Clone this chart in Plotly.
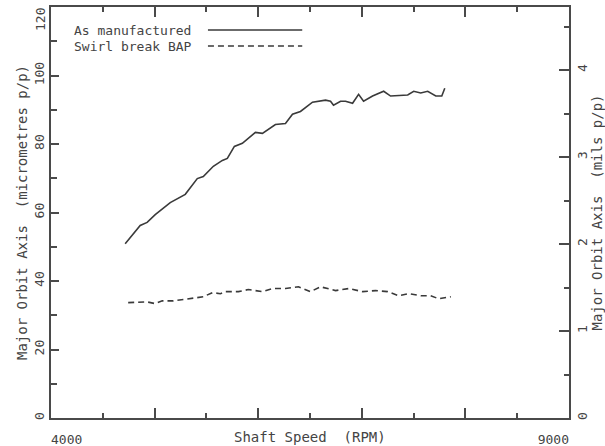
import plotly.graph_objects as go

# ---- data ----
rpm_solid = [4716, 4861, 4928, 5006, 5151, 5296, 5412, 5470, 5567, 5654, 5702, 5770,
             5847, 5973, 6041, 6166, 6263, 6331, 6408, 6524, 6650, 6698, 6727, 6795,
             6843, 6911, 6969, 7017, 7104, 7211, 7278, 7443, 7501, 7569, 7636, 7714,
             7772, 7801]
orbit_solid = [50.9, 56.2, 57.1, 59.4, 62.9, 65.3, 69.9, 70.5, 73.5, 75.2, 75.8, 79.3,
               80.2, 83.4, 83.1, 85.7, 86.0, 88.7, 89.5, 92.2, 92.8, 92.5, 91.3, 92.5,
               92.5, 91.9, 94.5, 92.5, 94.0, 95.4, 94.0, 94.3, 95.4, 94.9, 95.4, 94.0,
               94.0, 96.3]

rpm_dash = [4745, 4841, 4928, 5006, 5074, 5180, 5315, 5412, 5470, 5557, 5635, 5683,
            5809, 5905, 6041, 6137, 6263, 6389, 6505, 6602, 6747, 6873, 7008, 7133,
            7249, 7356, 7453, 7569, 7665, 7743, 7859]
orbit_dash = [33.7, 33.9, 33.9, 33.4, 34.2, 34.2, 34.8, 35.1, 35.4, 36.6, 36.3, 36.9,
              36.9, 37.5, 36.9, 37.8, 37.8, 38.3, 36.9, 38.3, 37.2, 37.8, 36.9, 37.2,
              36.9, 35.7, 36.3, 35.7, 35.7, 34.8, 35.4]

x_tickvals = [4000, 5000, 6000, 7000, 8000, 9000]
x_ticktext = ["\u00a0\u00a0\u00a0\u00a04000", "", "", "", "", "9000\u00a0\u00a0\u00a0\u00a0"]
y_tickvals = [0, 20, 40, 60, 80, 100]
y_ticktext = ["0", "20", "40", "60", "80", "100"]
y_top_val = 120
y_top_text = "120"
y2_tickvals = [0, 1, 2, 3, 4]
y2_ticktext = ["0", "1", "2", "3", "4"]
series_names = ["As manufactured", "Swirl break BAP"]

INK = "#3a3a3a"
AX = "#4a4a4a"
TXT = "#444"
FONT = "DejaVu Sans Mono"

fig = go.Figure()
fig.add_trace(go.Scatter(x=rpm_solid, y=orbit_solid, mode="lines", name=series_names[0],
                         line=dict(color=INK, width=1.6), showlegend=False))
fig.add_trace(go.Scatter(x=rpm_dash, y=orbit_dash, mode="lines", name=series_names[1],
                         line=dict(color=INK, width=1.6, dash="6px,4px"), showlegend=False))
# invisible trace to activate right axis
fig.add_trace(go.Scatter(x=[4000], y=[0], yaxis="y2", mode="markers",
                         marker=dict(opacity=0), showlegend=False, hoverinfo="skip"))

fig.update_layout(
    width=605, height=446,
    margin=dict(l=51, r=36, t=7, b=28, autoexpand=False),
    paper_bgcolor="white", plot_bgcolor="white",
    font=dict(family=FONT, size=13, color=TXT),
    xaxis=dict(range=[4000, 9000], tickmode="array", tickvals=x_tickvals, ticktext=x_ticktext,
               ticks="inside", ticklen=10, tickwidth=1.5, tickcolor=AX,
               minor=dict(tickmode="linear", tick0=4000, dtick=500, ticks="inside",
                          ticklen=5, tickwidth=1.5, tickcolor=AX),
               showline=True, linecolor=AX, linewidth=2, mirror="ticks",
               showgrid=False, zeroline=False, ticklabelstandoff=8,
               tickfont=dict(size=13), automargin=False),
    yaxis=dict(range=[0, 120], tickmode="array", tickvals=y_tickvals, ticktext=y_ticktext,
               ticks="inside", ticklen=8, tickwidth=1.5, tickcolor=AX,
               minor=dict(tickmode="linear", tick0=0, dtick=10, ticks="inside",
                          ticklen=6, tickwidth=1.5, tickcolor=AX),
               showline=True, linecolor=AX, linewidth=2,
               showgrid=False, zeroline=False, tickangle=-90,
               tickfont=dict(size=13), automargin=False,
               title=dict(text="Major Orbit Axis  (micrometres p/p)", standoff=1,
                          font=dict(size=14))),
    yaxis2=dict(range=[0, 120 / 25.4], overlaying="y", side="right",
                tickmode="array", tickvals=y2_tickvals, ticktext=y2_ticktext,
                ticks="inside", ticklen=10, tickwidth=1.5, tickcolor=AX,
                minor=dict(tickmode="linear", tick0=0, dtick=0.5, ticks="inside",
                           ticklen=5, tickwidth=1.5, tickcolor=AX),
                showline=True, linecolor=AX, linewidth=2,
                showgrid=False, zeroline=False, tickangle=-90,
                tickfont=dict(size=13), automargin=False,
                title=dict(text="Major Orbit Axis  (mils p/p)", standoff=1,
                           font=dict(size=14))),
    showlegend=False,
)

# top tick label of left axis (shifted down so it is not clipped)
fig.add_annotation(text=y_top_text, xref="paper", yref="y", x=0, y=y_top_val,
                   xanchor="center", yanchor="middle", xshift=-11, yshift=-13,
                   textangle=-90, showarrow=False,
                   font=dict(family=FONT, size=13, color=TXT))

# x-axis title on same row as tick labels
fig.add_annotation(text="Shaft Speed  (RPM)", xref="paper", yref="paper", x=0.5, y=0,
                   xanchor="center", yanchor="top", yshift=-9, showarrow=False,
                   font=dict(family=FONT, size=14, color=TXT))

# legend (text followed by line sample)
leg_y = [0.944, 0.905]
for name, yy, dash in zip(series_names, leg_y, ["solid", "6px,4px"]):
    fig.add_annotation(text=name, xref="paper", yref="paper", x=0.04, y=yy,
                       xanchor="left", yanchor="middle", showarrow=False,
                       font=dict(family=FONT, size=13, color=TXT))
    fig.add_shape(type="line", xref="paper", yref="paper", x0=0.303, x1=0.485, y0=yy, y1=yy,
                  line=dict(color=INK, width=1.6, dash=dash))

fig.write_html("out.html")
